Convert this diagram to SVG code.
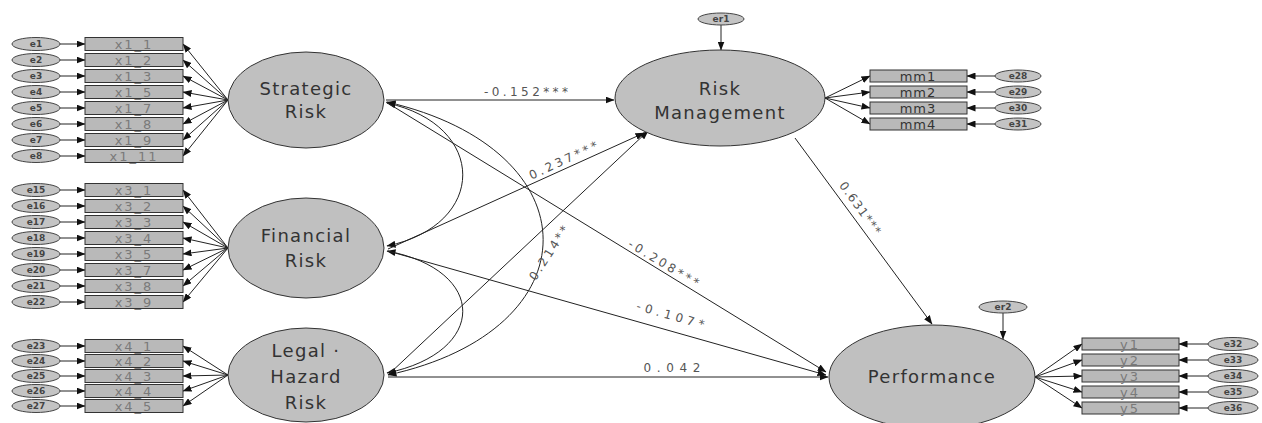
<svg xmlns="http://www.w3.org/2000/svg" width="1262" height="423" viewBox="0 0 1262 423">
<defs>
<marker id="ah" markerWidth="9" markerHeight="7" refX="8.5" refY="3.5" orient="auto-start-reverse" markerUnits="userSpaceOnUse"><path d="M0,0 L9,3.5 L0,7 z" fill="#111"/></marker>
</defs>
<style>
.lat{fill:#c0c0c0;stroke:#333;stroke-width:1}
.ltx{font-family:"DejaVu Sans",sans-serif;font-size:18px;fill:#333;text-anchor:middle;letter-spacing:1.3px}
.box{fill:#b9b9b9;stroke:#333;stroke-width:1}
.btx{font-family:"DejaVu Sans",sans-serif;font-size:13px;fill:#7a7a7a;text-anchor:middle;letter-spacing:2px}
.mtx{font-family:"DejaVu Sans",sans-serif;font-size:13px;fill:#333;text-anchor:middle;letter-spacing:1px}
.err{fill:#c4c4c4;stroke:#444;stroke-width:1}
.etx{font-family:"DejaVu Sans",sans-serif;font-size:9px;font-weight:bold;fill:#444;text-anchor:middle}
.c{stroke:#222;stroke-width:1;fill:none}
.a{marker-end:url(#ah)}
.d{marker-start:url(#ah);marker-end:url(#ah)}
.lbl{font-family:"DejaVu Sans",sans-serif;font-size:12px;fill:#555;text-anchor:middle}
</style>
<rect width="1262" height="423" fill="#fff"/>

<g id="connectors">
<!-- error -> indicator (left) -->
<line class="c a" x1="60" y1="44" x2="85" y2="44"/>
<line class="c a" x1="60" y1="60" x2="85" y2="60"/>
<line class="c a" x1="60" y1="76" x2="85" y2="76"/>
<line class="c a" x1="60" y1="92" x2="85" y2="92"/>
<line class="c a" x1="60" y1="108" x2="85" y2="108"/>
<line class="c a" x1="60" y1="124" x2="85" y2="124"/>
<line class="c a" x1="60" y1="140" x2="85" y2="140"/>
<line class="c a" x1="60" y1="156" x2="85" y2="156"/>
<line class="c a" x1="60" y1="190" x2="85" y2="190"/>
<line class="c a" x1="60" y1="206" x2="85" y2="206"/>
<line class="c a" x1="60" y1="222" x2="85" y2="222"/>
<line class="c a" x1="60" y1="238" x2="85" y2="238"/>
<line class="c a" x1="60" y1="254" x2="85" y2="254"/>
<line class="c a" x1="60" y1="270" x2="85" y2="270"/>
<line class="c a" x1="60" y1="286" x2="85" y2="286"/>
<line class="c a" x1="60" y1="302" x2="85" y2="302"/>
<line class="c a" x1="60" y1="346" x2="85" y2="346"/>
<line class="c a" x1="60" y1="361" x2="85" y2="361"/>
<line class="c a" x1="60" y1="376" x2="85" y2="376"/>
<line class="c a" x1="60" y1="391" x2="85" y2="391"/>
<line class="c a" x1="60" y1="406" x2="85" y2="406"/>
<!-- latent -> indicators (left) -->
<line class="c a" x1="228" y1="100" x2="183" y2="44"/>
<line class="c a" x1="228" y1="100" x2="183" y2="60"/>
<line class="c a" x1="228" y1="100" x2="183" y2="76"/>
<line class="c a" x1="228" y1="100" x2="183" y2="92"/>
<line class="c a" x1="228" y1="100" x2="183" y2="108"/>
<line class="c a" x1="228" y1="100" x2="183" y2="124"/>
<line class="c a" x1="228" y1="100" x2="183" y2="140"/>
<line class="c a" x1="228" y1="100" x2="183" y2="156"/>
<line class="c a" x1="228" y1="248" x2="183" y2="190"/>
<line class="c a" x1="228" y1="248" x2="183" y2="206"/>
<line class="c a" x1="228" y1="248" x2="183" y2="222"/>
<line class="c a" x1="228" y1="248" x2="183" y2="238"/>
<line class="c a" x1="228" y1="248" x2="183" y2="254"/>
<line class="c a" x1="228" y1="248" x2="183" y2="270"/>
<line class="c a" x1="228" y1="248" x2="183" y2="286"/>
<line class="c a" x1="228" y1="248" x2="183" y2="302"/>
<line class="c a" x1="228" y1="375" x2="183" y2="346"/>
<line class="c a" x1="228" y1="375" x2="183" y2="361"/>
<line class="c a" x1="228" y1="375" x2="183" y2="376"/>
<line class="c a" x1="228" y1="375" x2="183" y2="391"/>
<line class="c a" x1="228" y1="375" x2="183" y2="406"/>
<!-- covariances -->
<path class="c d" d="M387,103 C488,125 488,225 387,246"/>
<path class="c d" d="M387,251 C488,270 488,352 387,373"/>
<path class="c d" d="M387,102 C595,150 595,330 388,375"/>
<!-- structural paths -->
<line class="c a" x1="386" y1="100" x2="614" y2="100"/>
<line class="c a" x1="386" y1="102" x2="826" y2="372"/>
<line class="c a" x1="388" y1="249" x2="644" y2="133"/>
<line class="c a" x1="388" y1="251" x2="826" y2="375"/>
<line class="c a" x1="388" y1="375" x2="648" y2="131"/>
<line class="c a" x1="388" y1="377" x2="828" y2="377"/>
<line class="c a" x1="795" y1="138" x2="932" y2="324"/>
<!-- disturbances -->
<line class="c a" x1="721" y1="25" x2="721" y2="50"/>
<line class="c a" x1="1003" y1="313" x2="1003" y2="339"/>
<!-- RM indicators -->
<line class="c a" x1="825" y1="98" x2="870" y2="76"/>
<line class="c a" x1="825" y1="98" x2="870" y2="92"/>
<line class="c a" x1="825" y1="98" x2="870" y2="108"/>
<line class="c a" x1="825" y1="98" x2="870" y2="124"/>
<line class="c a" x1="995" y1="76" x2="967" y2="76"/>
<line class="c a" x1="995" y1="92" x2="967" y2="92"/>
<line class="c a" x1="995" y1="108" x2="967" y2="108"/>
<line class="c a" x1="995" y1="124" x2="967" y2="124"/>
<!-- Performance indicators -->
<line class="c a" x1="1035" y1="377" x2="1082" y2="344"/>
<line class="c a" x1="1035" y1="377" x2="1082" y2="360"/>
<line class="c a" x1="1035" y1="377" x2="1082" y2="376"/>
<line class="c a" x1="1035" y1="377" x2="1082" y2="392"/>
<line class="c a" x1="1035" y1="377" x2="1082" y2="408"/>
<line class="c a" x1="1208" y1="344" x2="1179" y2="344"/>
<line class="c a" x1="1208" y1="360" x2="1179" y2="360"/>
<line class="c a" x1="1208" y1="376" x2="1179" y2="376"/>
<line class="c a" x1="1208" y1="392" x2="1179" y2="392"/>
<line class="c a" x1="1208" y1="408" x2="1179" y2="408"/>
<!-- path labels -->
<text class="lbl" x="526" y="96" textLength="84" lengthAdjust="spacing">-0.152***</text>
<text class="lbl" transform="translate(566,166) rotate(-25)" x="0" y="-2" textLength="74" lengthAdjust="spacing">0.237***</text>
<text class="lbl" transform="translate(549,253) rotate(-57)" x="0" y="4" textLength="62" lengthAdjust="spacing">0.214**</text>
<text class="lbl" transform="translate(662,266) rotate(31)" x="0" y="1" textLength="80" lengthAdjust="spacing">-0.208***</text>
<text class="lbl" transform="translate(668,324) rotate(16)" x="0" y="-5" textLength="70" lengthAdjust="spacing">-0.107*</text>
<text class="lbl" x="672" y="372" textLength="57" lengthAdjust="spacing">0.042</text>
<text class="lbl" transform="translate(852,214) rotate(54)" x="0" y="-6" textLength="62" lengthAdjust="spacing">0.631***</text>
</g>

<!-- Latent variables -->
<g id="strategic_risk"><ellipse class="lat" cx="306" cy="100" rx="78" ry="48"/><text class="ltx" x="306" y="95">Strategic</text><text class="ltx" x="306" y="118">Risk</text></g>
<g id="financial_risk"><ellipse class="lat" cx="306" cy="248" rx="78" ry="50"/><text class="ltx" x="306" y="242">Financial</text><text class="ltx" x="306" y="267">Risk</text></g>
<g id="legal_hazard_risk"><ellipse class="lat" cx="306" cy="375" rx="78" ry="47"/><text class="ltx" x="306" y="357">Legal ·</text><text class="ltx" x="306" y="383">Hazard</text><text class="ltx" x="306" y="409">Risk</text></g>
<g id="risk_management"><ellipse class="lat" cx="720" cy="98" rx="105" ry="48"/><text class="ltx" x="720" y="95">Risk</text><text class="ltx" x="720" y="119">Management</text></g>
<g id="performance"><ellipse class="lat" cx="932" cy="377" rx="103" ry="52"/><text class="ltx" x="932" y="383">Performance</text></g>
<g id="er1"><ellipse class="err" cx="721" cy="19" rx="23" ry="6"/><text class="etx" x="721" y="22">er1</text></g>
<g id="er2"><ellipse class="err" cx="1003" cy="307" rx="24" ry="6"/><text class="etx" x="1003" y="310">er2</text></g>

<!-- Strategic indicators -->
<g id="x1_1"><rect class="box" x="85" y="37.5" width="98" height="13"/><text class="btx" x="134" y="48.5">x1_1</text></g>
<g id="x1_2"><rect class="box" x="85" y="53.5" width="98" height="13"/><text class="btx" x="134" y="64.5">x1_2</text></g>
<g id="x1_3"><rect class="box" x="85" y="69.5" width="98" height="13"/><text class="btx" x="134" y="80.5">x1_3</text></g>
<g id="x1_5"><rect class="box" x="85" y="85.5" width="98" height="13"/><text class="btx" x="134" y="96.5">x1_5</text></g>
<g id="x1_7"><rect class="box" x="85" y="101.5" width="98" height="13"/><text class="btx" x="134" y="112.5">x1_7</text></g>
<g id="x1_8"><rect class="box" x="85" y="117.5" width="98" height="13"/><text class="btx" x="134" y="128.5">x1_8</text></g>
<g id="x1_9"><rect class="box" x="85" y="133.5" width="98" height="13"/><text class="btx" x="134" y="144.5">x1_9</text></g>
<g id="x1_11"><rect class="box" x="85" y="149.5" width="98" height="13"/><text class="btx" x="134" y="160.5">x1_11</text></g>
<g id="e1"><ellipse class="err" cx="36" cy="44" rx="24" ry="6.5"/><text class="etx" x="36" y="47">e1</text></g>
<g id="e2"><ellipse class="err" cx="36" cy="60" rx="24" ry="6.5"/><text class="etx" x="36" y="63">e2</text></g>
<g id="e3"><ellipse class="err" cx="36" cy="76" rx="24" ry="6.5"/><text class="etx" x="36" y="79">e3</text></g>
<g id="e4"><ellipse class="err" cx="36" cy="92" rx="24" ry="6.5"/><text class="etx" x="36" y="95">e4</text></g>
<g id="e5"><ellipse class="err" cx="36" cy="108" rx="24" ry="6.5"/><text class="etx" x="36" y="111">e5</text></g>
<g id="e6"><ellipse class="err" cx="36" cy="124" rx="24" ry="6.5"/><text class="etx" x="36" y="127">e6</text></g>
<g id="e7"><ellipse class="err" cx="36" cy="140" rx="24" ry="6.5"/><text class="etx" x="36" y="143">e7</text></g>
<g id="e8"><ellipse class="err" cx="36" cy="156" rx="24" ry="6.5"/><text class="etx" x="36" y="159">e8</text></g>

<!-- Financial indicators -->
<g id="x3_1"><rect class="box" x="85" y="183.5" width="98" height="13"/><text class="btx" x="134" y="194.5">x3_1</text></g>
<g id="x3_2"><rect class="box" x="85" y="199.5" width="98" height="13"/><text class="btx" x="134" y="210.5">x3_2</text></g>
<g id="x3_3"><rect class="box" x="85" y="215.5" width="98" height="13"/><text class="btx" x="134" y="226.5">x3_3</text></g>
<g id="x3_4"><rect class="box" x="85" y="231.5" width="98" height="13"/><text class="btx" x="134" y="242.5">x3_4</text></g>
<g id="x3_5"><rect class="box" x="85" y="247.5" width="98" height="13"/><text class="btx" x="134" y="258.5">x3_5</text></g>
<g id="x3_7"><rect class="box" x="85" y="263.5" width="98" height="13"/><text class="btx" x="134" y="274.5">x3_7</text></g>
<g id="x3_8"><rect class="box" x="85" y="279.5" width="98" height="13"/><text class="btx" x="134" y="290.5">x3_8</text></g>
<g id="x3_9"><rect class="box" x="85" y="295.5" width="98" height="13"/><text class="btx" x="134" y="306.5">x3_9</text></g>
<g id="e15"><ellipse class="err" cx="36" cy="190" rx="24" ry="6.5"/><text class="etx" x="36" y="193">e15</text></g>
<g id="e16"><ellipse class="err" cx="36" cy="206" rx="24" ry="6.5"/><text class="etx" x="36" y="209">e16</text></g>
<g id="e17"><ellipse class="err" cx="36" cy="222" rx="24" ry="6.5"/><text class="etx" x="36" y="225">e17</text></g>
<g id="e18"><ellipse class="err" cx="36" cy="238" rx="24" ry="6.5"/><text class="etx" x="36" y="241">e18</text></g>
<g id="e19"><ellipse class="err" cx="36" cy="254" rx="24" ry="6.5"/><text class="etx" x="36" y="257">e19</text></g>
<g id="e20"><ellipse class="err" cx="36" cy="270" rx="24" ry="6.5"/><text class="etx" x="36" y="273">e20</text></g>
<g id="e21"><ellipse class="err" cx="36" cy="286" rx="24" ry="6.5"/><text class="etx" x="36" y="289">e21</text></g>
<g id="e22"><ellipse class="err" cx="36" cy="302" rx="24" ry="6.5"/><text class="etx" x="36" y="305">e22</text></g>

<!-- Legal-Hazard indicators -->
<g id="x4_1"><rect class="box" x="85" y="339.5" width="98" height="13"/><text class="btx" x="134" y="350.5">x4_1</text></g>
<g id="x4_2"><rect class="box" x="85" y="354.5" width="98" height="13"/><text class="btx" x="134" y="365.5">x4_2</text></g>
<g id="x4_3"><rect class="box" x="85" y="369.5" width="98" height="13"/><text class="btx" x="134" y="380.5">x4_3</text></g>
<g id="x4_4"><rect class="box" x="85" y="384.5" width="98" height="13"/><text class="btx" x="134" y="395.5">x4_4</text></g>
<g id="x4_5"><rect class="box" x="85" y="399.5" width="98" height="13"/><text class="btx" x="134" y="410.5">x4_5</text></g>
<g id="e23"><ellipse class="err" cx="36" cy="346" rx="24" ry="6.5"/><text class="etx" x="36" y="349">e23</text></g>
<g id="e24"><ellipse class="err" cx="36" cy="361" rx="24" ry="6.5"/><text class="etx" x="36" y="364">e24</text></g>
<g id="e25"><ellipse class="err" cx="36" cy="376" rx="24" ry="6.5"/><text class="etx" x="36" y="379">e25</text></g>
<g id="e26"><ellipse class="err" cx="36" cy="391" rx="24" ry="6.5"/><text class="etx" x="36" y="394">e26</text></g>
<g id="e27"><ellipse class="err" cx="36" cy="406" rx="24" ry="6.5"/><text class="etx" x="36" y="409">e27</text></g>

<!-- Risk Management indicators -->
<g id="mm1"><rect class="box" x="870" y="70" width="97" height="12"/><text class="mtx" x="918" y="80.5">mm1</text></g>
<g id="mm2"><rect class="box" x="870" y="86" width="97" height="12"/><text class="mtx" x="918" y="96.5">mm2</text></g>
<g id="mm3"><rect class="box" x="870" y="102" width="97" height="12"/><text class="mtx" x="918" y="112.5">mm3</text></g>
<g id="mm4"><rect class="box" x="870" y="118" width="97" height="12"/><text class="mtx" x="918" y="128.5">mm4</text></g>
<g id="e28"><ellipse class="err" cx="1018" cy="76" rx="23" ry="6"/><text class="etx" x="1018" y="79">e28</text></g>
<g id="e29"><ellipse class="err" cx="1018" cy="92" rx="23" ry="6"/><text class="etx" x="1018" y="95">e29</text></g>
<g id="e30"><ellipse class="err" cx="1018" cy="108" rx="23" ry="6"/><text class="etx" x="1018" y="111">e30</text></g>
<g id="e31"><ellipse class="err" cx="1018" cy="124" rx="23" ry="6"/><text class="etx" x="1018" y="127">e31</text></g>

<!-- Performance indicators -->
<g id="y1"><rect class="box" x="1082" y="338" width="97" height="12"/><text class="btx" x="1130" y="348.5">y1</text></g>
<g id="y2"><rect class="box" x="1082" y="354" width="97" height="12"/><text class="btx" x="1130" y="364.5">y2</text></g>
<g id="y3"><rect class="box" x="1082" y="370" width="97" height="12"/><text class="btx" x="1130" y="380.5">y3</text></g>
<g id="y4"><rect class="box" x="1082" y="386" width="97" height="12"/><text class="btx" x="1130" y="396.5">y4</text></g>
<g id="y5"><rect class="box" x="1082" y="402" width="97" height="12"/><text class="btx" x="1130" y="412.5">y5</text></g>
<g id="e32"><ellipse class="err" cx="1233" cy="344" rx="25" ry="6.5"/><text class="etx" x="1233" y="347">e32</text></g>
<g id="e33"><ellipse class="err" cx="1233" cy="360" rx="25" ry="6.5"/><text class="etx" x="1233" y="363">e33</text></g>
<g id="e34"><ellipse class="err" cx="1233" cy="376" rx="25" ry="6.5"/><text class="etx" x="1233" y="379">e34</text></g>
<g id="e35"><ellipse class="err" cx="1233" cy="392" rx="25" ry="6.5"/><text class="etx" x="1233" y="395">e35</text></g>
<g id="e36"><ellipse class="err" cx="1233" cy="408" rx="25" ry="6.5"/><text class="etx" x="1233" y="411">e36</text></g>
</svg>
